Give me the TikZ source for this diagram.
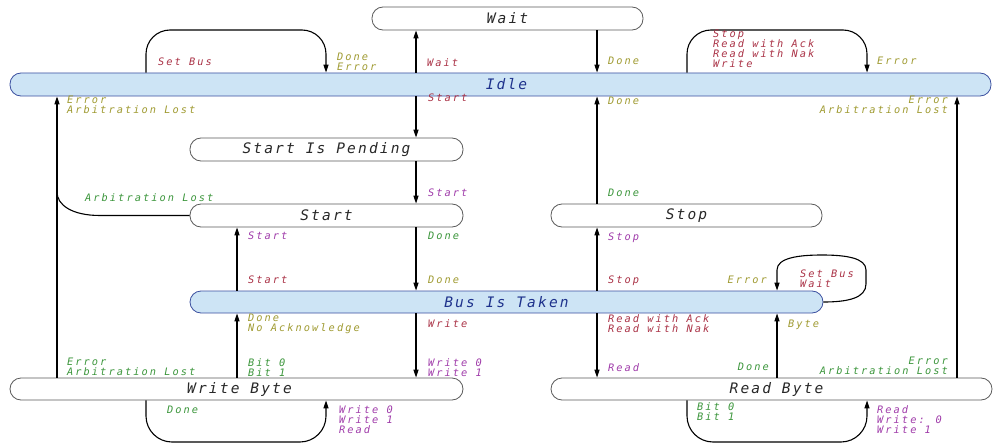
\documentclass[tikz,border=0pt]{standalone}
\usepackage{fontspec}
\newfontfamily\cadlbl{DejaVu Sans Mono}[LetterSpace=20]
\newfontfamily\cadnode{DejaVu Sans Mono}[LetterSpace=15]
\usetikzlibrary{arrows.meta}
\definecolor{cbrown}{RGB}{170,50,70}
\definecolor{colive}{RGB}{160,155,50}
\definecolor{cgreen}{RGB}{60,150,60}
\definecolor{cpurple}{RGB}{160,60,170}
\definecolor{busfill}{RGB}{205,228,245}
\definecolor{busborder}{RGB}{60,80,160}
\definecolor{bustext}{RGB}{30,50,140}
\definecolor{stateborder}{RGB}{90,90,90}
\definecolor{statetext}{RGB}{40,40,40}
\tikzset{
  state/.style={draw=stateborder, line width=0.8pt, rounded corners=11pt, minimum height=23pt, inner sep=0pt,
    font=\cadnode\itshape\fontsize{14.5}{15}\selectfont, text=statetext},
  busy/.style={state, fill=busfill, draw=busborder, text=bustext},
  conn/.style={line width=1.1pt, draw=black},
  arr/.style={conn, -{Triangle[length=8pt,width=5pt]}},
  lbl/.style={inner sep=0pt, font=\cadlbl\itshape\fontsize{10.3}{10}\selectfont, align=left, anchor=north west},
  lblr/.style={lbl, align=right, anchor=north east},
}
\begin{document}
\begin{tikzpicture}[x=1pt,y=-1pt]
\useasboundingbox (0,0) rectangle (993,444);
\fill[white] (0,0) rectangle (993,444);

% states
\node[state, minimum width=271pt] (wait) at (507.5,18.5) {Wait};
\node[busy, minimum width=981pt] (idle) at (500.5,84.5) {\hspace*{12pt}Idle};
\node[state, minimum width=273pt] (sip) at (326.5,149.5) {Start Is Pending};
\node[state, minimum width=273pt] (start) at (326.5,215.5) {Start};
\node[state, minimum width=271pt] (stop) at (686.5,215.5) {Stop};
\node[busy, minimum width=633pt, minimum height=22pt] (bit) at (506.5,302) {Bus Is Taken};
\node[state, minimum width=453pt, minimum height=22pt] (wb) at (236.5,389) {\hspace*{6pt}Write Byte};
\node[state, minimum width=441pt, minimum height=22pt] (rb) at (771.5,389) {\hspace*{10pt}Read Byte};

% Idle <-> Wait
\draw[arr] (416,0 |- idle.north) -- (416,0 |- wait.south);
\draw[arr] (597,0 |- wait.south) -- (597,0 |- idle.north);
% Idle loops
\draw[arr, rounded corners=24pt] (146,0 |- idle.north) |- (236,30) -| (326,0 |- idle.north);
\draw[arr, rounded corners=24pt] (687,0 |- idle.north) |- (777,30) -| (867,0 |- idle.north);
% long verticals
\draw[arr] (57,0 |- wb.north) -- (57,0 |- idle.south);
\draw[arr] (957,0 |- rb.north) -- (957,0 |- idle.south);
% Idle -> SIP -> Start
\draw[arr] (416,0 |- idle.south) -- (416,0 |- sip.north);
\draw[arr] (416,0 |- sip.south) -- (416,0 |- start.north);
% Stop -> Idle
\draw[arr] (597,0 |- stop.north) -- (597,0 |- idle.south);
% Start arbitration lost
\draw[conn] (start.west) -- (100,0 |- start.west) .. controls (72,215.5) and (57,205) .. (57,192);
% Start <-> BIT
\draw[arr] (416,0 |- start.south) -- (416,0 |- bit.north);
\draw[arr] (237,0 |- bit.north) -- (237,0 |- start.south);
\draw[arr] (597,0 |- bit.north) -- (597,0 |- stop.south);
% BIT loop
\draw[arr] (bit.east) .. controls (848,302) and (866,298) .. (866,284) -- (866,270)
  .. controls (866,258) and (846,255) .. (822,255) .. controls (798,255) and (777,258) .. (777,270)
  -- (777,0 |- bit.north);
% BIT <-> WB / RB
\draw[arr] (416,0 |- bit.south) -- (416,0 |- wb.north);
\draw[arr] (237,0 |- wb.north) -- (237,0 |- bit.south);
\draw[arr] (597,0 |- bit.south) -- (597,0 |- rb.north);
\draw[arr] (777,0 |- rb.north) -- (777,0 |- bit.south);
% bottom loops
\draw[arr, rounded corners=26pt] (146,0 |- wb.south) |- (236,442) -| (326,0 |- wb.south);
\draw[arr, rounded corners=26pt] (687,0 |- rb.south) |- (777,442) -| (867,0 |- rb.south);

% labels
\node[lbl, text=cbrown] (l1) at (158,58) {Set Bus};
\node[lbl, text=colive] (l2) at (337,53) {Done\\Error};
\node[lbl, text=cbrown] (l3) at (427,58) {Wait};
\node[lbl, text=colive] (l4) at (608,57) {Done};
\node[lbl, text=cbrown] (l5) at (713,30) {Stop\\Read with Ack\\Read with Nak\\Write};
\node[lbl, text=colive] (l6) at (877,57) {Error};
\node[lbl, text=colive] (l7) at (67,96) {Error\\Arbitration Lost};
\node[lbl, text=cbrown] (l8) at (428,94) {Start};
\node[lbl, text=colive] (l9) at (608,97) {Done};
\node[lblr, text=colive] (l10) at (948,96) {Error\\Arbitration Lost};
\node[lbl, text=cpurple] (l11) at (428,189) {Start};
\node[lbl, text=cgreen] (l12) at (85,193) {Arbitration Lost};
\node[lbl, text=cgreen] (l13) at (608,189) {Done};
\node[lbl, text=cpurple] (l14) at (248,232) {Start};
\node[lbl, text=cgreen] (l15) at (428,232) {Done};
\node[lbl, text=cpurple] (l16) at (608,233) {Stop};
\node[lbl, text=cbrown] (l17) at (248,276) {Start};
\node[lbl, text=colive] (l18) at (428,276) {Done};
\node[lbl, text=cbrown] (l19) at (608,276) {Stop};
\node[lblr, text=colive] (l20) at (767,276) {Error};
\node[lbl, text=cbrown] (l21) at (800,270) {Set Bus\\Wait};
\node[lbl, text=colive] (l22) at (248,314) {Done\\No Acknowledge};
\node[lbl, text=cbrown] (l23) at (428,319) {Write};
\node[lbl, text=cbrown] (l24) at (608,314) {Read with Ack\\Read with Nak};
\node[lbl, text=colive] (l25) at (788,320) {Byte};
\node[lbl, text=cgreen] (l26) at (67,358) {Error\\Arbitration Lost};
\node[lbl, text=cgreen] (l27) at (248,358) {Bit 0\\Bit 1};
\node[lbl, text=cpurple] (l28) at (428,358) {Write 0\\Write 1};
\node[lbl, text=cpurple] (l29) at (608,363) {Read};
\node[lblr, text=cgreen] (l30) at (769,363) {Done};
\node[lblr, text=cgreen] (l31) at (948,357) {Error\\Arbitration Lost};
\node[lbl, text=cgreen] (l32) at (167,406) {Done};
\node[lbl, text=cpurple] (l33) at (339,405) {Write 0\\Write 1\\Read};
\node[lbl, text=cgreen] (l34) at (697,402) {Bit 0\\Bit 1};
\node[lbl, text=cpurple] (l35) at (877,405) {Read\\Write: 0\\Write 1};
\end{tikzpicture}
\end{document}
